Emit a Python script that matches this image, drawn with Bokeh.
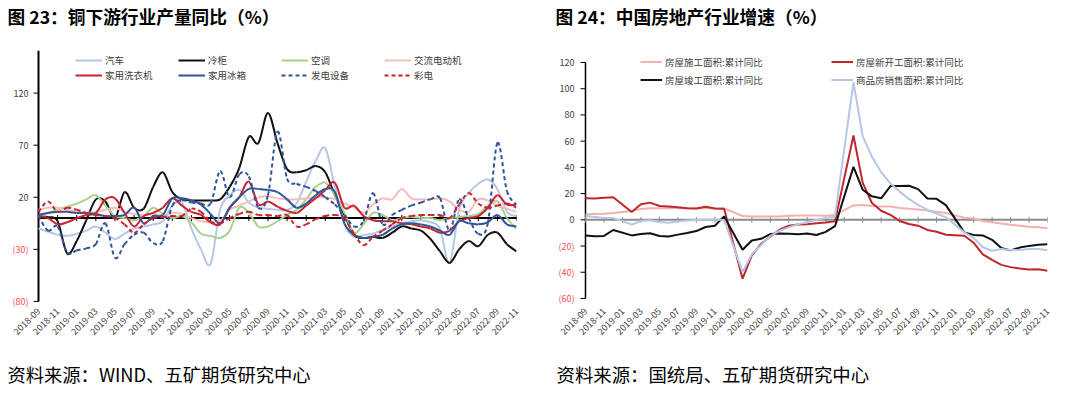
import math
from bokeh.plotting import figure
from bokeh.models import (Range1d, FixedTicker, Legend, LegendItem, ColumnDataSource, Title)
from bokeh.layouts import row
from bokeh.embed import file_html
from bokeh.resources import INLINE
from bokeh.core.properties import value

FONT = "Noto Sans CJK SC"

# ---------------- data ----------------
months = []
_y, _m = 2018, 9
while (_y, _m) <= (2022, 11):
    months.append(f"{_y}-{_m:02d}")
    _m += 1
    if _m > 12:
        _m = 1
        _y += 1

# Figure 23: copper downstream output YoY (%)
auto = [-10, -13, -16, -17, -15, -12, -8, -14, -20, -15, -10, -8, -6, -3, 12, 15, -10, -30, -44, 8,
        22, 27, 15, 10, 9, 8, 8, 14, 35, 55, 67, 30, -6, -18, -16, -15, -11, -8, -5, -3,
        -2, -4, -10, -43, 8, 24, 33, 37, 28, 6, 2]
freezer = [2, 1, -3, -34, -22, -2, 18, 16, 0, 25, 10, 9, 30, 44, 25, 18, 17, 17, 17, 18,
           30, 48, 78, 72, 101, 72, 47, 44, 46, 50, 44, 22, 3, -16, -19, -18, -19, -14, -8, -10,
           -12, -20, -32, -43, -30, -22, -27, -16, -14, -25, -32]
aircon = [1, 5, 8, 11, 14, 18, 22, 12, 2, 0, -2, 2, 10, 4, 0, 2, -4, -15, -17, -19,
          -12, 10, 5, -8, -8, -3, 3, 8, 18, 30, 34, 22, 5, -14, -6, 5, 3, -2, 0, 1,
          0, 0, -2, 0, 1, 2, 4, 12, 16, 0, -10]
ac_motor = [8, 10, 10, 8, 6, 5, 6, 8, 10, 6, 4, 3, 4, 3, 5, 4, 0, -3, -4, -3,
            8, 12, 16, 20, 21, 19, 18, 18, 19, 20, 20, 18, 14, 10, 5, 13, 19, 18, 28, 19,
            18, 18, 19, 16, 8, 6, 18, 17, 12, 9, 6]
washer = [2, 0, -6, -4, 0, 3, 5, 18, 19, 5, -8, 2, 5, 10, 19, 12, 6, 3, -4, -6,
          10, 20, 35, 13, 16, 11, 7, 5, 12, 19, 27, 34, 10, 12, 2, -2, -3, -3, -5, -6,
          -8, -10, -14, -12, -3, 0, 2, 10, 22, 13, 13]
fridge = [3, 5, 6, 6, 5, 5, 4, 2, 2, 3, 10, -5, 2, 3, 19, 19, 17, 13, 4, -5,
          10, 20, 28, 28, 27, 25, 18, 10, 14, 22, 28, 25, -5, -16, -19, -18, -16, -10, -6, -5,
          -6, -8, -12, -16, -3, -5, -6, -4, 3, -6, -8]
power_equip = [2, -12, -8, -33, -31, -29, -25, -5, -38, -25, -16, -14, -24, -22, 12, 17, 15, 14, 14, 45,
               20, 42, 40, 10, 22, 83, 38, 33, 30, 26, 20, 13, 3, -8, -3, 24, -6, 3, 8, 12,
               15, 18, 19, -12, 18, 0, -15, -5, 72, 26, 13]
tv = [6, 16, 6, 10, 8, 5, 3, 2, 0, -6, -14, -6, 0, 1, 2, 2, 9, 6, -3, -5,
      0, 4, 6, 3, 3, 2, 3, -8, -6, -1, 2, 3, 0, -15, -26, -18, -12, -6, 0, 2,
      3, 3, 3, 0, 13, 24, 14, 10, 12, 14, 10]

left_names = ["汽车", "冷柜", "空调", "交流电动机", "家用洗衣机", "家用冰箱", "发电设备", "彩电"]
left_series = [auto, freezer, aircon, ac_motor, washer, fridge, power_equip, tv]
left_colors = ["#b4c7e7", "#111111", "#a9d18e", "#f6bcbc", "#c8232c", "#2f5597", "#2f5597", "#c8232c"]
left_dash = ["solid", "solid", "solid", "solid", "solid", "solid", "4 3", "4 3"]
left_ticks = [-80, -30, 20, 70, 120]

# Figure 24: China real estate growth (cumulative YoY, %); January not published
under_constr = [4.2, 4.4, 4.6, 5.2, None, 6.8, 8.2, 8.8, 8.8, 8.8, 9.0, 8.8, 8.7, 9.0, 8.7, 8.7, None,
                2.9, 2.6, 2.5, 2.6, 2.6, 3.1, 3.3, 3.3, 3.2, 3.1, 3.7, None,
                11.0, 11.2, 10.5, 10.1, 10.2, 9.0, 8.4, 7.9, 7.1, 6.1, 5.2, None,
                1.5, 1.0, -0.9, -1.9, -2.8, -3.7, -4.5, -5.3, -5.7, -6.5]
new_starts = [16.4, 16.3, 16.8, 17.2, None, 6.0, 11.9, 13.1, 10.5, 10.1, 9.5, 8.9, 8.6, 10.0, 8.6, 8.5, None,
              -44.9, -27.2, -18.4, -12.8, -7.6, -4.5, -3.6, -3.4, -2.6, -2.0, -1.2, None,
              64.3, 28.2, 12.8, 6.9, 3.8, -0.9, -3.2, -4.5, -7.7, -9.1, -11.4, None,
              -12.2, -17.5, -26.3, -30.6, -34.4, -36.1, -37.2, -38.0, -37.8, -38.9]
completed = [-12.0, -12.5, -12.3, -7.8, None, -11.9, -10.8, -10.3, -12.4, -12.7, -11.3, -10.0, -8.6, -5.5, -4.5, 2.6, None,
             -22.9, -15.8, -14.5, -10.9, -10.5, -10.6, -11.0, -10.5, -11.6, -9.2, -4.9, None,
             40.4, 22.9, 17.9, 16.4, 25.7, 25.7, 26.0, 23.4, 16.3, 16.0, 11.2, None,
             -9.6, -11.5, -11.9, -15.3, -21.5, -23.3, -21.2, -19.9, -19.0, -18.7]
sales = [2.9, 2.2, 1.4, 1.3, None, -3.6, -0.9, -0.3, -1.6, -2.2, -1.3, -0.6, -0.1, 0.1, 0.2, -0.1, None,
         -39.9, -26.3, -19.3, -12.3, -8.4, -5.8, -3.3, -1.8, 0.0, 1.3, 2.6, None,
         104.9, 63.8, 48.1, 36.3, 27.7, 21.5, 15.9, 11.3, 7.5, 4.8, 1.9, None,
         -9.6, -13.8, -20.9, -23.6, -22.2, -23.1, -23.0, -22.2, -22.3, -23.3]

right_names = ["房屋施工面积:累计同比", "房屋新开工面积:累计同比", "房屋竣工面积:累计同比", "商品房销售面积:累计同比"]
right_series = [under_constr, new_starts, completed, sales]
right_colors = ["#f4b0b0", "#c0272d", "#111111", "#b4c7e7"]
right_ticks = [-60, -40, -20, 0, 20, 40, 60, 80, 100, 120]

tick_idx = list(range(0, len(months), 2))


def fmt(v):
    return f"({abs(v)})" if v < 0 else f"{v}"


def smooth_source(vals):
    n = len(vals)
    d = dict(x0=[], y0=[], x1=[], y1=[], cx0=[], cy0=[], cx1=[], cy1=[])
    for k in range(n - 1):
        a, b = max(k - 1, 0), min(k + 2, n - 1)
        d["x0"].append(k); d["y0"].append(vals[k])
        d["x1"].append(k + 1); d["y1"].append(vals[k + 1])
        d["cx0"].append(k + (k + 1 - a) / 6); d["cy0"].append(vals[k] + (vals[k + 1] - vals[a]) / 6)
        d["cx1"].append(k + 1 - (b - k) / 6); d["cy1"].append(vals[k + 1] - (vals[b] - vals[k]) / 6)
    return ColumnDataSource(d)


def make_fig(width, x_start, y_lo, y_hi):
    p = figure(width=width, height=397, x_range=Range1d(x_start, len(months) - 1),
               y_range=Range1d(y_lo, y_hi), output_backend="svg", toolbar_location=None,
               min_border_left=4, min_border_right=25, min_border_top=50, min_border_bottom=90)
    p.background_fill_color = "white"
    p.border_fill_color = "white"
    p.outline_line_color = None
    p.xgrid.visible = False
    p.ygrid.visible = False
    p.yaxis.visible = False
    xa = p.xaxis[0]
    xa.ticker = FixedTicker(ticks=tick_idx)
    xa.major_label_overrides = {i: months[i] for i in tick_idx}
    xa.major_label_orientation = math.pi / 4
    xa.axis_line_color = None
    xa.major_tick_line_color = None
    xa.minor_tick_line_color = None
    xa.major_label_text_font = FONT
    xa.major_label_text_font_size = "9px"
    xa.major_label_text_color = "#404040"
    xa.major_label_standoff = -4
    return p


def draw_axis(p, ticks, axis_top, axis_w, zero_color, label_gap):
    # vertical axis line, ticks and labels (negatives in red, in brackets)
    p.segment(x0=[0], y0=[ticks[0]], x1=[0], y1=[axis_top], line_color="black", line_width=axis_w)
    p.ray(x=[0] * len(ticks), y=ticks, length=5, length_units="screen", angle=math.pi,
          line_color="black", line_width=1)
    p.text(x=[0] * len(ticks), y=ticks, text=[fmt(t) for t in ticks],
           text_color=["#ff4d4d" if t < 0 else "#404040" for t in ticks],
           x_offset=-label_gap, text_align="right", text_baseline="middle",
           text_font=value(FONT), text_font_size="9px")
    # zero line with month ticks
    p.ray(x=[0], y=[0], length=0, angle=0, line_color=zero_color, line_width=2)
    p.scatter(x=tick_idx, y=[0] * len(tick_idx), marker="dash", angle=math.pi / 2, size=6,
              line_color=zero_color, line_width=1)


def add_titles(p, title, source, t_off, s_off, s_size):
    # main title (outermost) with a spacer between it and the frame
    p.title.text = title
    p.title.text_font = FONT
    p.title.text_font_size = "17.7px"
    p.title.text_font_style = "bold"
    p.title.text_color = "black"
    p.title.align = "left"
    p.title.offset = t_off
    p.title.standoff = 0
    p.add_layout(Title(text=" ", text_font_size="1px", standoff=19), "above")
    p.add_layout(Title(text=" ", text_font_size="1px", standoff=15), "below")
    p.add_layout(Title(text=source, align="left", offset=s_off, text_font=FONT,
                       text_font_size=s_size, text_font_style="normal", text_color="black",
                       standoff=0, vertical_align="bottom"), "below")


def legend(items, ncols, loc, gw, lh, lw):
    return Legend(items=items, orientation="horizontal", ncols=ncols, location=loc,
                  glyph_width=gw, glyph_height=lh, label_height=lh, label_width=lw, label_standoff=3,
                  spacing=1, padding=0, margin=0, background_fill_alpha=0, border_line_alpha=0,
                  label_text_font=FONT, label_text_font_size="9.5px", label_text_color="#404040")


# ---------------- left chart ----------------
p1 = make_fig(541, -3.556, -85.8, 160.9)
draw_axis(p1, left_ticks, p1.y_range.end, 2, "black", 10)
add_titles(p1, "图 23：铜下游行业产量同比（%）", "资料来源：WIND、五矿期货研究中心", 3, 3, "18.3px")

items = []
for name, vals, col, dash in zip(left_names, left_series, left_colors, left_dash):
    r = p1.bezier(x0="x0", y0="y0", x1="x1", y1="y1", cx0="cx0", cy0="cy0", cx1="cx1", cy1="cy1",
                  source=smooth_source(vals), line_color=col, line_width=2, line_dash=dash)
    items.append(LegendItem(label=name, renderers=[r]))
p1.add_layout(legend(items, 4, (71, 225), 27, 14, 72), "center")

# ---------------- right chart ----------------
p2 = make_fig(531, -4.329, -66.9, 129.15)
draw_axis(p2, right_ticks, right_ticks[-1], 1.5, "#8c8c8c", 11)
add_titles(p2, "图 24：中国房地产行业增速（%）", "资料来源：国统局、五矿期货研究中心", 10, 11, "18.4px")

items2 = []
for name, vals, col in zip(right_names, right_series, right_colors):
    xs = [i for i, v in enumerate(vals) if v is not None]
    ys = [v for v in vals if v is not None]
    r = p2.line(xs, ys, line_color=col, line_width=2)
    items2.append(LegendItem(label=name, renderers=[r]))
p2.add_layout(legend(items2, 2, (95, 219), 22, 17, 165), "center")

layout = row(p1, p2)
open("out.html", "w").write(file_html(layout, INLINE))
